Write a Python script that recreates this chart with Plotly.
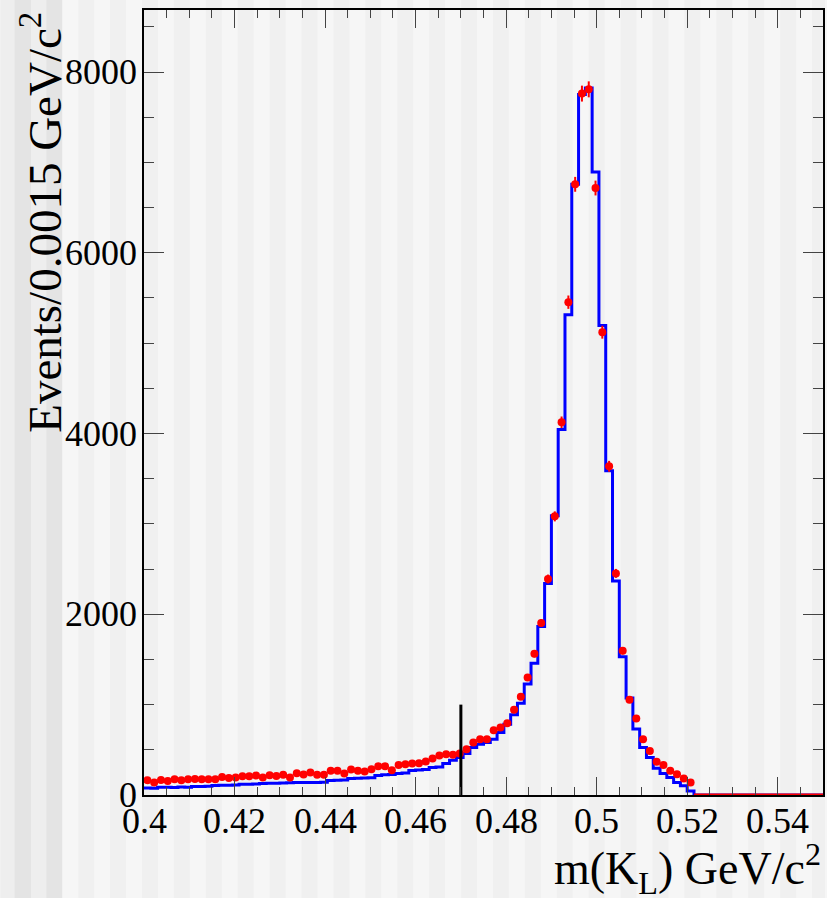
import numpy as np
import plotly.graph_objects as go

# ---------------- data ----------------
x_min, x_max = 0.40, 0.55
bin_width = 0.0015

data_counts = [
    164, 137, 167, 156, 175, 164, 175, 178, 175, 175,
    175, 200, 189, 193, 208, 208, 215, 193, 219, 211,
    223, 193, 241, 228, 248, 223, 223, 267, 267, 237,
    281, 267, 259, 285, 318, 318, 274, 333, 340, 348,
    352, 370, 403, 436, 451, 444, 458, 507, 580, 618,
    618, 717, 746, 795, 942, 1086, 1300, 1562, 1904, 2390,
    3083, 4124, 5453, 6757, 7761, 7808, 6716, 5121, 3637, 2452,
    1596, 1055, 846, 618, 488, 367, 333, 267, 230, 182,
    137, 0, 0, 0, 0, 0, 0, 0, 0, 0,
    0, 0, 0, 0, 0, 0, 0, 0, 0, 0,
]

mc_counts = [
    78, 76, 85, 86, 84, 88, 87, 93, 95, 96,
    105, 108, 107, 110, 118, 119, 121, 128, 130, 129,
    133, 135, 137, 137, 137, 138, 140, 160, 164, 166,
    182, 186, 188, 190, 215, 223, 226, 238, 243, 270,
    278, 282, 305, 311, 348, 385, 414, 458, 525, 562,
    580, 618, 691, 784, 887, 1016, 1227, 1457, 1864, 2340,
    3091, 4043, 5313, 6757, 7750, 7823, 6893, 5195, 3589, 2367,
    1529, 1072, 729, 525, 414, 297, 237, 193, 137, 101,
    45, 0, 0, 0, 0, 0, 0, 0, 0, 0,
    0, 0, 0, 0, 0, 0, 0, 0, 0, 0,
]

cut_x = 0.47
cut_height = 1000

x_tick_vals = [0.40, 0.42, 0.44, 0.46, 0.48, 0.50, 0.52, 0.54]
x_tick_text = ["0.4", "0.42", "0.44", "0.46", "0.48", "0.5", "0.52", "0.54"]
y_tick_vals = [0, 2000, 4000, 6000, 8000]
y_tick_text = ["0", "2000", "4000", "6000", "8000"]

x_title = "m(K<sub>L</sub>) GeV/c<sup>2</sup>"
y_title = "Events/0.0015 GeV/c<sup>2</sup>"

# ---------------- derived ----------------
n_bins = len(data_counts)
edges = x_min + bin_width * np.arange(n_bins + 1)
centers = edges[:-1] + bin_width / 2
data_arr = np.array(data_counts, dtype=float)
errors = np.sqrt(data_arr)
y_max = 1.1 * float(np.max(data_arr + errors))
nonzero = data_arr > 0
zero_idx = np.where(~nonzero)[0]

W, H = 827, 898
ML, MR, MT, MB = 144, 2, 10, 103
PW = W - ML - MR
PH = H - MT - MB

FONT = "Liberation Serif"

fig = go.Figure()

# MC histogram (step outline)
fig.add_trace(go.Scatter(
    x=edges,
    y=list(mc_counts) + [mc_counts[-1]],
    mode="lines",
    line=dict(color="#0000ff", width=3, shape="hv"),
    hoverinfo="skip",
    showlegend=False,
))

# empty data bins drawn along zero
if len(zero_idx):
    fig.add_trace(go.Scatter(
        x=[edges[zero_idx[0]], edges[zero_idx[-1] + 1]],
        y=[0, 0],
        mode="lines",
        line=dict(color="#ff0000", width=3),
        hoverinfo="skip",
        showlegend=False,
    ))

# data points with error bars
fig.add_trace(go.Scatter(
    x=centers[nonzero],
    y=data_arr[nonzero],
    mode="markers",
    marker=dict(color="#ff0000", size=8, symbol="circle"),
    error_y=dict(type="data", array=errors[nonzero], visible=True,
                 color="#ff0000", thickness=2, width=0),
    showlegend=False,
))

# cut line
fig.add_trace(go.Scatter(
    x=[cut_x, cut_x],
    y=[0, cut_height],
    mode="lines",
    line=dict(color="black", width=3),
    hoverinfo="skip",
    showlegend=False,
))

# background stripes (as in picture)
def px_to_paper_x(px):
    return (px - ML) / PW

shapes = []
y0p = -MB / PH
y1p = 1 + MT / PH
left_bands = [(0, 14, "#eeeeee"), (14, 31, "#e4e4e4"), (31, 46, "#eeeeee"), (46, 62, "#e4e4e4")]
for a, b, c in left_bands:
    shapes.append(dict(type="rect", xref="paper", yref="paper",
                       x0=px_to_paper_x(a), x1=px_to_paper_x(b), y0=y0p, y1=y1p,
                       fillcolor=c, line=dict(width=0), layer="below"))
k = 0
start = 62
while start < W:
    if k % 2 == 1:
        shapes.append(dict(type="rect", xref="paper", yref="paper",
                           x0=px_to_paper_x(start), x1=px_to_paper_x(min(start + 16, W)),
                           y0=y0p, y1=y1p,
                           fillcolor="#f0f0f0", line=dict(width=0), layer="below"))
    start += 16
    k += 1

# tick labels as serif text annotations
annotations = []
for v, t in zip(x_tick_vals, x_tick_text):
    annotations.append(dict(text=t, xref="x", yref="paper", x=v, y=0,
                            xanchor="center", yanchor="middle", yshift=-26,
                            showarrow=False,
                            font=dict(family=FONT, size=36, color="black")))
for v, t in zip(y_tick_vals, y_tick_text):
    annotations.append(dict(text=t, xref="paper", yref="y", x=0, y=v,
                            xanchor="right", yanchor="middle", xshift=-5,
                            showarrow=False,
                            font=dict(family=FONT, size=36, color="black")))
annotations.append(dict(text=x_title, xref="paper", yref="paper", x=1.0, y=-0.093,
                        xanchor="right", yanchor="middle", showarrow=False,
                        font=dict(family=FONT, size=46, color="black")))
annotations.append(dict(text=y_title, xref="paper", yref="paper", x=px_to_paper_x(41), y=1.0,
                        xanchor="center", yanchor="top", textangle=-90, showarrow=False,
                        font=dict(family=FONT, size=47, color="black")))

fig.update_layout(
    width=W, height=H,
    margin=dict(l=ML, r=MR, t=MT, b=MB, pad=0),
    paper_bgcolor="#f6f6f6",
    plot_bgcolor="rgba(0,0,0,0)",
    font=dict(family=FONT, size=36, color="black"),
    shapes=shapes,
    showlegend=False,
    annotations=annotations,
)

fig.update_xaxes(
    range=[x_min, x_max],
    showline=True, linewidth=2, linecolor="black", mirror="ticks",
    showgrid=False, zeroline=False,
    ticks="inside", ticklen=18, tickwidth=1, tickcolor="#444444",
    tickvals=x_tick_vals, showticklabels=False,
    minor=dict(dtick=0.005, tick0=0.40, ticks="inside", ticklen=8, tickwidth=1, tickcolor="#444444"),
)
fig.update_yaxes(
    range=[0, y_max],
    showline=True, linewidth=2, linecolor="black", mirror="ticks",
    showgrid=False, zeroline=False,
    ticks="inside", ticklen=20, tickwidth=1, tickcolor="#444444",
    tickvals=y_tick_vals, showticklabels=False,
    minor=dict(dtick=500, tick0=0, ticks="inside", ticklen=10, tickwidth=1, tickcolor="#444444"),
)

fig.write_html("out.html")
